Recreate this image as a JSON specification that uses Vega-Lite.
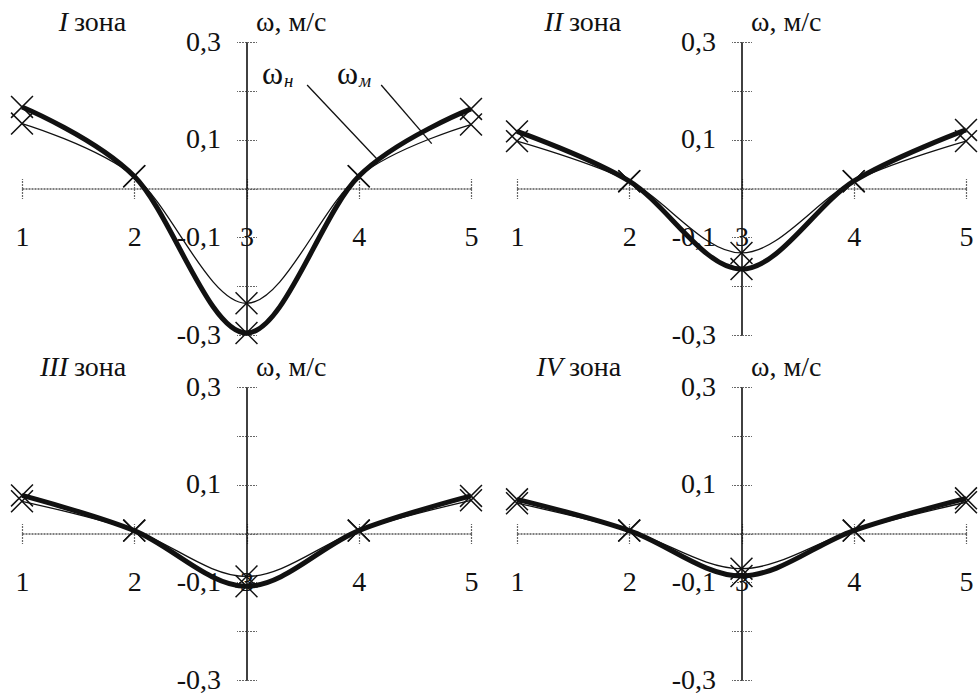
{
  "$schema": "https://vega.github.io/schema/vega-lite/v6.json",
  "padding": {"left": 8, "top": -2, "right": 5, "bottom": 5},
  "background": "white",
  "data": {
    "values": [
      {"panel": "I", "s": "н", "x": 1, "y": 0.167},
      {"panel": "I", "s": "н", "x": 2, "y": 0.025},
      {"panel": "I", "s": "н", "x": 3, "y": -0.296},
      {"panel": "I", "s": "н", "x": 4, "y": 0.025},
      {"panel": "I", "s": "н", "x": 5, "y": 0.163},
      {"panel": "I", "s": "м", "x": 1, "y": 0.133},
      {"panel": "I", "s": "м", "x": 2, "y": 0.025},
      {"panel": "I", "s": "м", "x": 3, "y": -0.235},
      {"panel": "I", "s": "м", "x": 4, "y": 0.025},
      {"panel": "I", "s": "м", "x": 5, "y": 0.131},
      {"panel": "II", "s": "н", "x": 1, "y": 0.117},
      {"panel": "II", "s": "н", "x": 2, "y": 0.015},
      {"panel": "II", "s": "н", "x": 3, "y": -0.165},
      {"panel": "II", "s": "н", "x": 4, "y": 0.015},
      {"panel": "II", "s": "н", "x": 5, "y": 0.12},
      {"panel": "II", "s": "м", "x": 1, "y": 0.097},
      {"panel": "II", "s": "м", "x": 2, "y": 0.015},
      {"panel": "II", "s": "м", "x": 3, "y": -0.132},
      {"panel": "II", "s": "м", "x": 4, "y": 0.015},
      {"panel": "II", "s": "м", "x": 5, "y": 0.097},
      {"panel": "III", "s": "н", "x": 1, "y": 0.078},
      {"panel": "III", "s": "н", "x": 2, "y": 0.006},
      {"panel": "III", "s": "н", "x": 3, "y": -0.108},
      {"panel": "III", "s": "н", "x": 4, "y": 0.006},
      {"panel": "III", "s": "н", "x": 5, "y": 0.077},
      {"panel": "III", "s": "м", "x": 1, "y": 0.066},
      {"panel": "III", "s": "м", "x": 2, "y": 0.006},
      {"panel": "III", "s": "м", "x": 3, "y": -0.088},
      {"panel": "III", "s": "м", "x": 4, "y": 0.006},
      {"panel": "III", "s": "м", "x": 5, "y": 0.068},
      {"panel": "IV", "s": "н", "x": 1, "y": 0.07},
      {"panel": "IV", "s": "н", "x": 2, "y": 0.006},
      {"panel": "IV", "s": "н", "x": 3, "y": -0.087},
      {"panel": "IV", "s": "н", "x": 4, "y": 0.006},
      {"panel": "IV", "s": "н", "x": 5, "y": 0.072},
      {"panel": "IV", "s": "м", "x": 1, "y": 0.062},
      {"panel": "IV", "s": "м", "x": 2, "y": 0.006},
      {"panel": "IV", "s": "м", "x": 3, "y": -0.072},
      {"panel": "IV", "s": "м", "x": 4, "y": 0.006},
      {"panel": "IV", "s": "м", "x": 5, "y": 0.064}
    ]
  },
  "facet": {"field": "panel", "type": "nominal", "sort": ["I", "II", "III", "IV"], "title": null,
    "header": {"title": null, "labels": false, "labelExpr": "''", "labelColor": "transparent", "labelPadding": 0, "titlePadding": 0}},
  "columns": 2,
  "spacing": {"row": 52, "column": 46},
  "bounds": "flush",
  "resolve": {"axis": {"x": "independent", "y": "independent"}},
  "spec": {
    "width": 449,
    "height": 293,
    "resolve": {"axis": {"x": "independent", "y": "independent"}},
    "layer": [
      {
        "mark": {"type": "line", "interpolate": "cardinal", "color": "#111"},
        "encoding": {
          "x": {"field": "x", "type": "quantitative", "scale": {"domain": [1, 5], "nice": false, "zero": false},
            "axis": {"orient": "bottom", "offset": -146.5, "values": [1, 2, 3, 4, 5], "tickSize": 10, "tickWidth": 1.2, "tickColor": "#666", "tickDash": [2, 1],
              "domainColor": "#555", "domainWidth": 1.5, "domainDash": [2, 1], "labelFont": "Liberation Serif", "labelFontSize": 28, "labelColor": "#111",
              "labelPadding": 39, "labelBaseline": "middle", "labelFlush": false, "labelOverlap": false, "grid": false, "title": null}},
          "y": {"field": "y", "type": "quantitative", "scale": {"domain": [-0.3, 0.3], "nice": false, "zero": false},
            "axis": {"orient": "left", "offset": -224.5, "values": [-0.3, -0.2, -0.1, 0, 0.1, 0.2, 0.3], "tickSize": 10, "tickWidth": 1.2, "tickColor": "#666", "tickDash": [2, 1],
              "domainColor": "#111", "domainWidth": 1.6, "labelFont": "Liberation Serif", "labelFontSize": 28, "labelColor": "#111", "labelPadding": 16,
              "labelExpr": "(abs(round(datum.value*10)) % 2 == 1) ? ((datum.value < 0 ? '-' : '') + '0,' + abs(round(datum.value*10))) : ''",
              "labelFlush": false, "labelOverlap": false, "grid": false,
              "title": "ω, м/с", "titleAngle": 0, "titleX": 9, "titleY": -12, "titleAlign": "left", "titleBaseline": "alphabetic",
              "titleFont": "Liberation Serif", "titleFontSize": 28, "titleFontWeight": "normal", "titleColor": "#111"}},
          "strokeWidth": {"field": "s", "type": "nominal", "scale": {"domain": ["н", "м"], "range": [5, 1.3]}, "legend": null}
        }
      },
      {
        "mark": {"type": "point", "shape": "M-1,-1L1,1M-1,1L1,-1", "size": 480, "filled": false, "strokeWidth": 1.5, "color": "#111", "opacity": 1},
        "encoding": {
          "x": {"field": "x", "type": "quantitative", "scale": {"domain": [1, 5], "nice": false, "zero": false},
            "axis": {"orient": "top", "offset": -146.5, "values": [1, 2, 3, 4, 5], "tickSize": 10, "tickWidth": 1.2, "tickColor": "#666", "tickDash": [2, 1],
              "domain": false, "labels": false, "grid": false, "title": null}},
          "y": {"field": "y", "type": "quantitative", "scale": {"domain": [-0.3, 0.3], "nice": false, "zero": false},
            "axis": {"orient": "right", "offset": -224.5, "values": [-0.3, -0.2, -0.1, 0, 0.1, 0.2, 0.3], "tickSize": 10, "tickWidth": 1.2, "tickColor": "#666", "tickDash": [2, 1],
              "domain": false, "labels": false, "grid": false, "title": null}}
        }
      },
      {
        "transform": [{"filter": "datum.x == 1 && datum.s == 'н'"}],
        "mark": {"type": "text", "font": "Liberation Serif", "fontSize": 28, "fontStyle": "italic", "align": "right", "baseline": "alphabetic", "dx": -6, "color": "#111"},
        "encoding": {
          "x": {"datum": 1.463, "type": "quantitative", "axis": null},
          "y": {"datum": 0.322, "type": "quantitative", "axis": null},
          "text": {"field": "panel"}
        }
      },
      {
        "transform": [{"filter": "datum.x == 1 && datum.s == 'н'"}],
        "mark": {"type": "text", "text": "зона", "font": "Liberation Serif", "fontSize": 28, "align": "left", "baseline": "alphabetic", "color": "#111"},
        "encoding": {
          "x": {"datum": 1.463, "type": "quantitative", "axis": null},
          "y": {"datum": 0.322, "type": "quantitative", "axis": null}
        }
      },
      {
        "transform": [{"filter": "datum.panel == 'I' && datum.x == 1 && datum.s == 'н'"}],
        "mark": {"type": "text", "text": "ω", "font": "Liberation Serif", "fontSize": 32, "align": "left", "baseline": "alphabetic", "color": "#111"},
        "encoding": {
          "x": {"datum": 3.138, "type": "quantitative", "axis": null},
          "y": {"datum": 0.214, "type": "quantitative", "axis": null}
        }
      },
      {
        "transform": [{"filter": "datum.panel == 'I' && datum.x == 1 && datum.s == 'н'"}],
        "mark": {"type": "text", "text": "н", "font": "Liberation Serif", "fontSize": 19, "fontStyle": "italic", "align": "left", "baseline": "alphabetic", "dy": 3, "color": "#111"},
        "encoding": {
          "x": {"datum": 3.334, "type": "quantitative", "axis": null},
          "y": {"datum": 0.214, "type": "quantitative", "axis": null}
        }
      },
      {
        "transform": [{"filter": "datum.panel == 'I' && datum.x == 1 && datum.s == 'н'"}],
        "mark": {"type": "text", "text": "ω", "font": "Liberation Serif", "fontSize": 32, "align": "left", "baseline": "alphabetic", "color": "#111"},
        "encoding": {
          "x": {"datum": 3.806, "type": "quantitative", "axis": null},
          "y": {"datum": 0.214, "type": "quantitative", "axis": null}
        }
      },
      {
        "transform": [{"filter": "datum.panel == 'I' && datum.x == 1 && datum.s == 'н'"}],
        "mark": {"type": "text", "text": "м", "font": "Liberation Serif", "fontSize": 19, "fontStyle": "italic", "align": "left", "baseline": "alphabetic", "dy": 3, "color": "#111"},
        "encoding": {
          "x": {"datum": 4.002, "type": "quantitative", "axis": null},
          "y": {"datum": 0.214, "type": "quantitative", "axis": null}
        }
      },
      {
        "transform": [{"filter": "datum.panel == 'I' && datum.x == 1 && datum.s == 'н'"}],
        "mark": {"type": "rule", "color": "#111", "strokeWidth": 1.3},
        "encoding": {
          "x": {"datum": 3.54, "type": "quantitative", "axis": null},
          "y": {"datum": 0.212, "type": "quantitative", "axis": null},
          "x2": {"datum": 4.16},
          "y2": {"datum": 0.061}
        }
      },
      {
        "transform": [{"filter": "datum.panel == 'I' && datum.x == 1 && datum.s == 'н'"}],
        "mark": {"type": "rule", "color": "#111", "strokeWidth": 1.3},
        "encoding": {
          "x": {"datum": 4.2, "type": "quantitative", "axis": null},
          "y": {"datum": 0.212, "type": "quantitative", "axis": null},
          "x2": {"datum": 4.65},
          "y2": {"datum": 0.092}
        }
      }
    ]
  },
  "config": {"view": {"stroke": null}, "font": "Liberation Serif", "axis": {"grid": false},
    "headerFacet": {"labels": false, "title": null, "labelColor": "transparent"},
    "header": {"labels": false, "labelColor": "transparent"}}
}
